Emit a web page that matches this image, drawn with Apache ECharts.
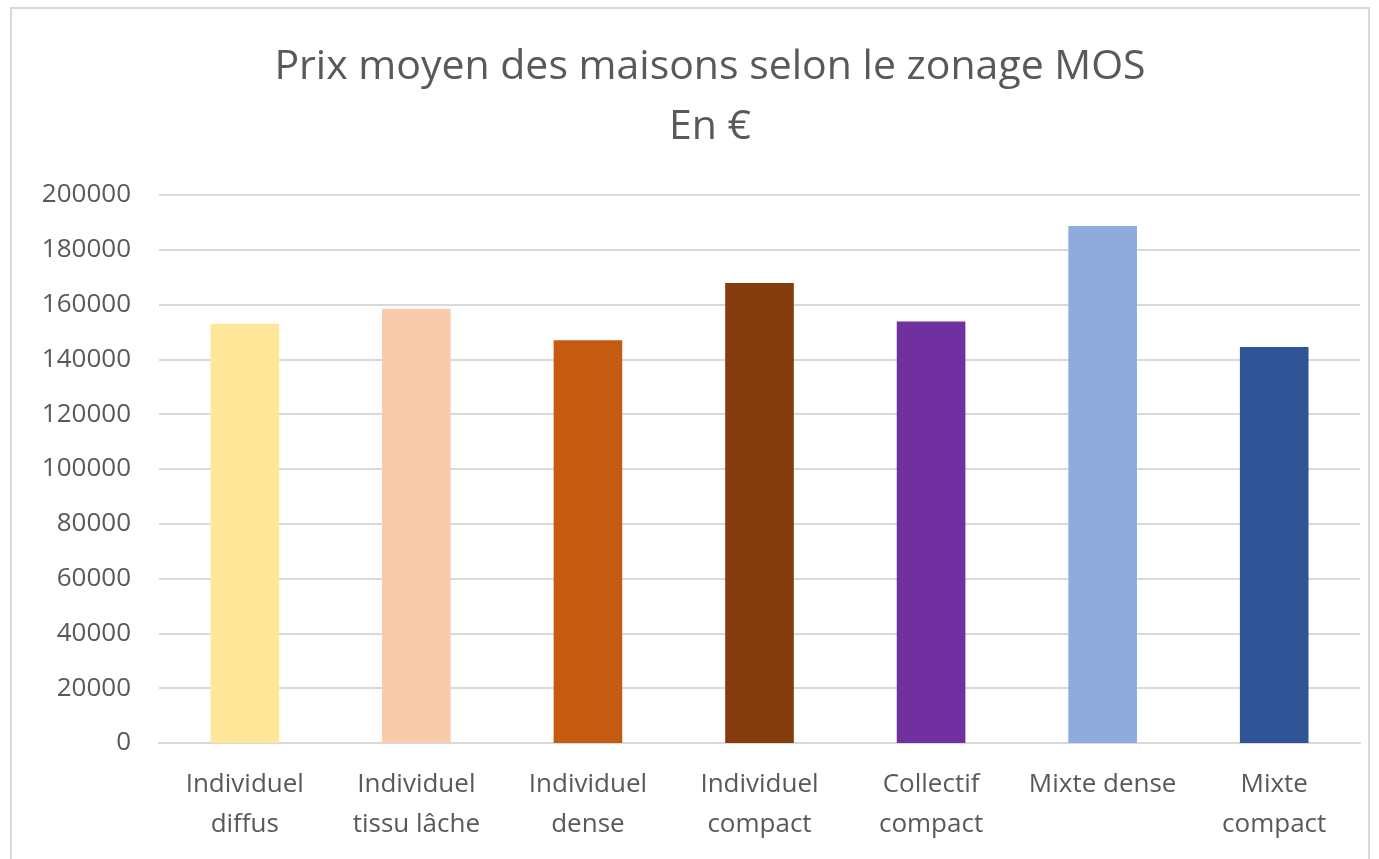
<!DOCTYPE html>
<html>
<head>
<meta charset="utf-8">
<script src="https://cdn.jsdelivr.net/npm/echarts@6/dist/echarts.min.js"></script>
<style>
  html, body { margin: 0; padding: 0; background: #fff; }
  #frame { position: absolute; left: 10px; top: 7px; width: 1360px; height: 860px; border: 2px solid #d9d9d9; box-sizing: border-box; }
  #chart { position: absolute; left: 0; top: 0; width: 1379px; height: 859px; }
</style>
</head>
<body>
<div id="frame"></div>
<div id="chart"></div>
<script>
// données
const categories = ['Individuel\ndiffus', 'Individuel\ntissu lâche', 'Individuel\ndense', 'Individuel\ncompact', 'Collectif\ncompact', 'Mixte dense', 'Mixte\ncompact'];
const prix = [153000, 158500, 147000, 167900, 153800, 188700, 144500];
const couleurs = ['#FFE699', '#F8CBAD', '#C55A11', '#843C0C', '#7030A0', '#8FAADC', '#2F5597'];

const police = '"Open Sans", "DejaVu Sans", sans-serif';

let myChart = echarts.init(document.getElementById('chart'));
myChart.setOption({
  animation: false,
  title: {
    text: 'Prix moyen des maisons selon le zonage MOS\nEn €',
    left: 705,
    textAlign: 'center',
    top: 32,
    textStyle: {
      fontFamily: police,
      fontSize: 41,
      fontWeight: 'normal',
      color: '#595959',
      lineHeight: 60
    }
  },
  grid: {
    left: 159,
    right: 19,
    top: 195,
    bottom: 116
  },
  xAxis: {
    type: 'category',
    data: categories,
    axisTick: { show: false },
    axisLine: { lineStyle: { color: '#d9d9d9', width: 2 } },
    axisLabel: {
      interval: 0,
      margin: 22,
      fontFamily: police,
      fontSize: 26,
      lineHeight: 40,
      color: '#595959'
    }
  },
  yAxis: {
    type: 'value',
    min: 0,
    max: 200000,
    interval: 20000,
    axisLine: { show: false },
    axisTick: { show: false },
    splitLine: { lineStyle: { color: '#d9d9d9', width: 2 } },
    axisLabel: {
      margin: 28,
      fontFamily: police,
      fontSize: 26,
      color: '#595959',
      formatter: v => String(v)
    }
  },
  series: [{
    type: 'bar',
    data: prix.map((v, i) => ({ value: v, itemStyle: { color: couleurs[i] } })),
    barWidth: '40%'
  }]
});
</script>
</body>
</html>
